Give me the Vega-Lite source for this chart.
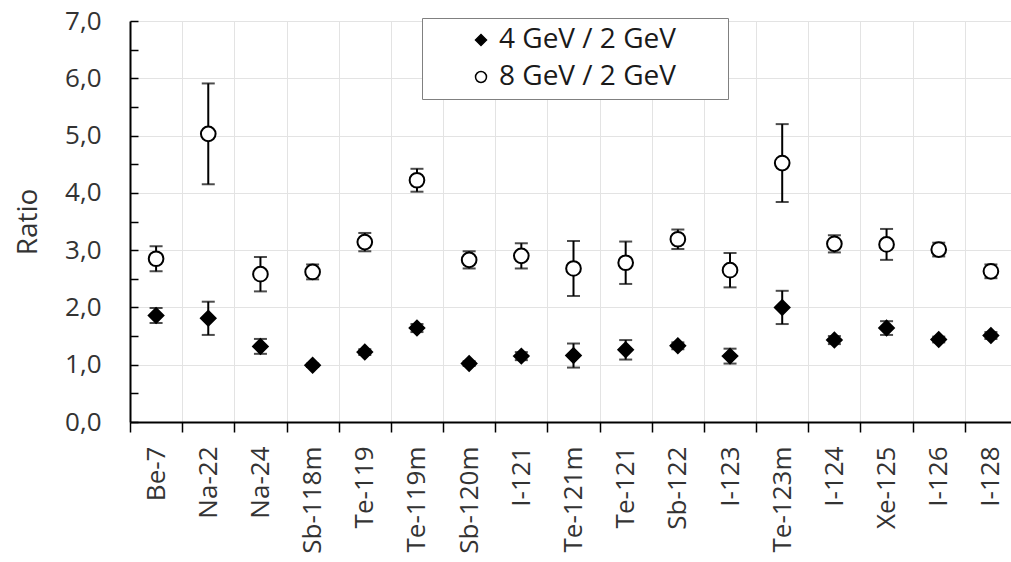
{
  "$schema": "https://vega.github.io/schema/vega-lite/v6.json",
  "width": 881,
  "height": 401,
  "autosize": "none",
  "padding": {"left": 130, "top": 21, "right": 0, "bottom": 140},
  "background": "white",
  "config": {"font": "Open Sans", "view": {"stroke": null}},
  "data": {
    "values": [
      {"nuclide": "Be-7", "series": "4 GeV / 2 GeV", "ratio": 1.86, "err": 0.13},
      {"nuclide": "Na-22", "series": "4 GeV / 2 GeV", "ratio": 1.81, "err": 0.29},
      {"nuclide": "Na-24", "series": "4 GeV / 2 GeV", "ratio": 1.32, "err": 0.13},
      {"nuclide": "Sb-118m", "series": "4 GeV / 2 GeV", "ratio": 0.99, "err": 0.03},
      {"nuclide": "Te-119", "series": "4 GeV / 2 GeV", "ratio": 1.22, "err": 0.05},
      {"nuclide": "Te-119m", "series": "4 GeV / 2 GeV", "ratio": 1.64, "err": 0.07},
      {"nuclide": "Sb-120m", "series": "4 GeV / 2 GeV", "ratio": 1.02, "err": 0.04},
      {"nuclide": "I-121", "series": "4 GeV / 2 GeV", "ratio": 1.15, "err": 0.07},
      {"nuclide": "Te-121m", "series": "4 GeV / 2 GeV", "ratio": 1.16, "err": 0.21},
      {"nuclide": "Te-121", "series": "4 GeV / 2 GeV", "ratio": 1.26, "err": 0.17},
      {"nuclide": "Sb-122", "series": "4 GeV / 2 GeV", "ratio": 1.33, "err": 0.06},
      {"nuclide": "I-123", "series": "4 GeV / 2 GeV", "ratio": 1.15, "err": 0.13},
      {"nuclide": "Te-123m", "series": "4 GeV / 2 GeV", "ratio": 2.0, "err": 0.29},
      {"nuclide": "I-124", "series": "4 GeV / 2 GeV", "ratio": 1.43, "err": 0.07},
      {"nuclide": "Xe-125", "series": "4 GeV / 2 GeV", "ratio": 1.64, "err": 0.12},
      {"nuclide": "I-126", "series": "4 GeV / 2 GeV", "ratio": 1.44, "err": 0.05},
      {"nuclide": "I-128", "series": "4 GeV / 2 GeV", "ratio": 1.51, "err": 0.06},
      {"nuclide": "Be-7", "series": "8 GeV / 2 GeV", "ratio": 2.85, "err": 0.22},
      {"nuclide": "Na-22", "series": "8 GeV / 2 GeV", "ratio": 5.03, "err": 0.88},
      {"nuclide": "Na-24", "series": "8 GeV / 2 GeV", "ratio": 2.58, "err": 0.3},
      {"nuclide": "Sb-118m", "series": "8 GeV / 2 GeV", "ratio": 2.62, "err": 0.13},
      {"nuclide": "Te-119", "series": "8 GeV / 2 GeV", "ratio": 3.14, "err": 0.16},
      {"nuclide": "Te-119m", "series": "8 GeV / 2 GeV", "ratio": 4.22, "err": 0.2},
      {"nuclide": "Sb-120m", "series": "8 GeV / 2 GeV", "ratio": 2.83, "err": 0.15},
      {"nuclide": "I-121", "series": "8 GeV / 2 GeV", "ratio": 2.9, "err": 0.22},
      {"nuclide": "Te-121m", "series": "8 GeV / 2 GeV", "ratio": 2.68, "err": 0.48},
      {"nuclide": "Te-121", "series": "8 GeV / 2 GeV", "ratio": 2.78, "err": 0.37},
      {"nuclide": "Sb-122", "series": "8 GeV / 2 GeV", "ratio": 3.19, "err": 0.17},
      {"nuclide": "I-123", "series": "8 GeV / 2 GeV", "ratio": 2.65, "err": 0.3},
      {"nuclide": "Te-123m", "series": "8 GeV / 2 GeV", "ratio": 4.52, "err": 0.68},
      {"nuclide": "I-124", "series": "8 GeV / 2 GeV", "ratio": 3.11, "err": 0.15},
      {"nuclide": "Xe-125", "series": "8 GeV / 2 GeV", "ratio": 3.1, "err": 0.27},
      {"nuclide": "I-126", "series": "8 GeV / 2 GeV", "ratio": 3.01, "err": 0.12},
      {"nuclide": "I-128", "series": "8 GeV / 2 GeV", "ratio": 2.63, "err": 0.12}
    ]
  },
  "encoding": {
    "x": {
      "field": "nuclide",
      "type": "nominal",
      "sort": null,
      "scale": {"type": "band", "paddingInner": 0, "paddingOuter": 0, "range": [0, 887]},
      "axis": {
        "title": null,
        "labelAngle": -90,
        "tickBand": "extent",
        "grid": true,
        "gridColor": "#e3e3e3",
        "gridWidth": 1,
        "tickSize": 10,
        "tickColor": "black",
        "tickWidth": 1.5,
        "domainColor": "black",
        "domainWidth": 2,
        "labelPadding": 14,
        "labelFontSize": 26,
        "labelColor": "#333333",
        "labelOverlap": false,
        "labelBound": false
      }
    },
    "y": {
      "field": "ratio",
      "type": "quantitative",
      "scale": {"domain": [0, 7], "nice": false, "zero": true},
      "axis": {
        "title": "Ratio",
        "values": [0, 0.5, 1, 1.5, 2, 2.5, 3, 3.5, 4, 4.5, 5, 5.5, 6, 6.5, 7],
        "labelExpr": "datum.value % 1 === 0 ? replace(format(datum.value, '.1f'), '.', ',') : ''",
        "grid": true,
        "gridColor": "#e3e3e3",
        "gridWidth": 1,
        "gridOpacity": {"condition": {"test": "datum.value % 1 !== 0", "value": 0}, "value": 1},
        "tickSize": -8,
        "tickColor": "black",
        "tickWidth": 1.5,
        "domainColor": "black",
        "domainWidth": 2,
        "labelPadding": 37,
        "labelFontSize": 26,
        "labelColor": "#333333",
        "labelOverlap": false,
        "titleFontSize": 28,
        "titleFontWeight": "normal",
        "titleColor": "#333333",
        "titlePadding": 22
      }
    }
  },
  "layer": [
    {
      "mark": {
        "type": "errorbar",
        "color": "black",
        "ticks": {"size": 13, "thickness": 2, "color": "black"},
        "rule": {"strokeWidth": 2, "color": "black"}
      },
      "encoding": {"yError": {"field": "err"}}
    },
    {
      "mark": {"type": "point", "filled": true, "strokeWidth": 2, "opacity": 1, "size": 215},
      "encoding": {
        "shape": {
          "field": "series",
          "type": "nominal",
          "scale": {"domain": ["4 GeV / 2 GeV", "8 GeV / 2 GeV"], "range": ["diamond", "circle"]},
          "legend": {
            "orient": "none", "legendX": 292, "legendY": -3, "title": null,
            "strokeColor": "#808080", "fillColor": "white",
            "padding": 8, "symbolOffset": 37, "labelFontSize": 28, "labelColor": "#1a1a1a",
            "symbolSize": 120, "symbolStrokeWidth": 1.5, "labelLimit": 400,
            "labelOffset": 4, "rowPadding": 9,
            "labelExpr": "datum.label + '\u00a0\u00a0\u00a0\u00a0\u00a0\u00a0\u200b'"
          }
        },
        "fill": {
          "field": "series",
          "type": "nominal",
          "scale": {"domain": ["4 GeV / 2 GeV", "8 GeV / 2 GeV"], "range": ["black", "white"]},
          "legend": {
            "orient": "none", "legendX": 292, "legendY": -3, "title": null,
            "strokeColor": "#808080", "fillColor": "white",
            "padding": 8, "symbolOffset": 37, "labelFontSize": 28, "labelColor": "#1a1a1a",
            "symbolSize": 120, "symbolStrokeWidth": 1.5, "labelLimit": 400,
            "labelOffset": 4, "rowPadding": 9,
            "labelExpr": "datum.label + '\u00a0\u00a0\u00a0\u00a0\u00a0\u00a0\u200b'"
          }
        },
        "stroke": {
          "field": "series",
          "type": "nominal",
          "scale": {"domain": ["4 GeV / 2 GeV", "8 GeV / 2 GeV"], "range": ["black", "black"]},
          "legend": {
            "orient": "none", "legendX": 292, "legendY": -3, "title": null,
            "strokeColor": "#808080", "fillColor": "white",
            "padding": 8, "symbolOffset": 37, "labelFontSize": 28, "labelColor": "#1a1a1a",
            "symbolSize": 120, "symbolStrokeWidth": 1.5, "labelLimit": 400,
            "labelOffset": 4, "rowPadding": 9,
            "labelExpr": "datum.label + '\u00a0\u00a0\u00a0\u00a0\u00a0\u00a0\u200b'"
          }
        }
      }
    }
  ]
}
